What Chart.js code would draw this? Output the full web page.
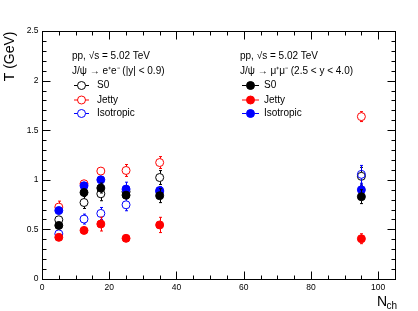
<!DOCTYPE html>
<html><head><meta charset="utf-8">
<script src="https://cdn.jsdelivr.net/npm/chart.js@4.4.0/dist/chart.umd.min.js"></script>
<style>html,body{margin:0;padding:0;background:#fff}#wrap{width:418px;height:311px}</style>
</head><body><div id="wrap"><canvas id="c" width="418" height="311"></canvas></div>
<script>
const nch = [5, 12.5, 17.5, 25, 35, 95];
const eeS0 = [0.597, 0.771, 0.859, 0.88, 1.023, 1.035];
const eeS0Err = [0.04, 0.06, 0.07, 0.05, 0.07, 0.09];
const eeJetty = [0.725, 0.96, 1.088, 1.094, 1.174, 1.637];
const eeJettyErr = [0.06, 0.03, 0.04, 0.06, 0.06, 0.05];
const eeIso = [0.455, 0.604, 0.661, 0.748, 0.88, 1.055];
const eeIsoErr = [0.03, 0.05, 0.06, 0.06, 0.05, 0.09];
const mmS0 = [0.54, 0.872, 0.917, 0.845, 0.84, 0.83];
const mmS0Err = [0.03, 0.04, 0.05, 0.04, 0.07, 0.07];
const mmJetty = [0.42, 0.49, 0.554, 0.41, 0.545, 0.406];
const mmJettyErr = [0.02, 0.03, 0.07, 0.015, 0.077, 0.05];
const mmIso = [0.69, 0.94, 1.0, 0.906, 0.892, 0.899];
const mmIsoErr = [0.03, 0.04, 0.04, 0.07, 0.04, 0.05];
const xTicks = [0, 20, 40, 60, 80, 100];
const yTicks = [0, 0.5, 1, 1.5, 2, 2.5];
const yTickLabels = ['0', '0.5', '1', '1.5', '2', '2.5'];
const seriesNames = ['S0', 'Jetty', 'Isotropic'];
const headerLeft = ['pp, √s = 5.02 TeV', 'J/ψ → e⁺e⁻ (|y| < 0.9)'];
const headerRight = ['pp, √s = 5.02 TeV', 'J/ψ → μ⁺μ⁻ (2.5 < y < 4.0)'];

const R = 4;
function ds(vals, errs, color, filled, order) {
  return {
    data: nch.map((x, i) => ({x: x, y: vals[i]})),
    errs: errs,
    borderColor: color,
    backgroundColor: filled ? color : 'rgba(0,0,0,0)',
    pointRadius: R, pointBorderWidth: 1, showLine: false,
    filledMarker: filled, order: order
  };
}
const FONT = '"Liberation Sans", Arial, sans-serif';

const rootPlugin = {
  id: 'rootStyle',
  beforeDatasetDraw(chart, args) {
    const d = chart.data.datasets[args.index];
    const ctx = chart.ctx, xs = chart.scales.x, ys = chart.scales.y;
    ctx.save();
    ctx.strokeStyle = d.borderColor; ctx.lineWidth = 1;
    d.data.forEach((p, i) => {
      const e = d.errs[i];
      const px = Math.round(xs.getPixelForValue(p.x)) + 0.5;
      const py = ys.getPixelForValue(p.y);
      const top = ys.getPixelForValue(p.y + e), bot = ys.getPixelForValue(p.y - e);
      ctx.beginPath();
      if (top < py - R) { ctx.moveTo(px, py - R); ctx.lineTo(px, top); ctx.moveTo(px - 1.5, top); ctx.lineTo(px + 1.5, top); }
      if (bot > py + R) { ctx.moveTo(px, py + R); ctx.lineTo(px, bot); ctx.moveTo(px - 1.5, bot); ctx.lineTo(px + 1.5, bot); }
      ctx.stroke();
    });
    ctx.restore();
  },
  afterDraw(chart) {
    const ctx = chart.ctx, xs = chart.scales.x, ys = chart.scales.y, a = chart.chartArea;
    const L = Math.round(a.left) + 0.5, Rt = Math.round(a.right) + 0.5, T = Math.round(a.top) + 0.5, B = Math.round(a.bottom) + 0.5;
    ctx.save();
    ctx.strokeStyle = '#000'; ctx.lineWidth = 1;
    ctx.strokeRect(L, T, Rt - L, B - T);
    ctx.beginPath();
    for (let v = 0; v <= 105; v += 5) {
      const x = Math.round(xs.getPixelForValue(v)) + 0.5;
      const len = (v % 20 === 0) ? 8 : 4;
      ctx.moveTo(x, B); ctx.lineTo(x, B - len);
      ctx.moveTo(x, T); ctx.lineTo(x, T + len);
    }
    for (let k = 0; k <= 25; k++) {
      const v = k / 10;
      const y = Math.round(ys.getPixelForValue(v)) + 0.5;
      const len = (k % 5 === 0) ? 8 : 4;
      ctx.moveTo(L, y); ctx.lineTo(L + len, y);
      ctx.moveTo(Rt, y); ctx.lineTo(Rt - len, y);
    }
    ctx.stroke();
    ctx.fillStyle = '#000';
    ctx.font = '8.5px ' + FONT;
    ctx.textAlign = 'center'; ctx.textBaseline = 'top';
    xTicks.forEach(v => ctx.fillText(String(v), xs.getPixelForValue(v), B + 4));
    ctx.textAlign = 'right'; ctx.textBaseline = 'middle';
    yTicks.forEach((v, i) => ctx.fillText(yTickLabels[i], L - 4, ys.getPixelForValue(v)));
    // axis titles
    ctx.save();
    ctx.translate(10, T);
    ctx.rotate(-Math.PI / 2);
    ctx.font = '14px ' + FONT; ctx.textAlign = 'right'; ctx.textBaseline = 'middle';
    ctx.fillText('T (GeV)', 0, 0);
    ctx.restore();
    ctx.textAlign = 'left'; ctx.textBaseline = 'alphabetic';
    ctx.font = '14px ' + FONT;
    ctx.fillText('N', 377, 306);
    ctx.font = '10px ' + FONT;
    ctx.fillText('ch', 386.5, 309);
    // legends
    const blocks = [
      {tx: 72, mx0: 74, mx1: 89, mc: 81.5, ex: 97, head: headerLeft, filled: false},
      {tx: 240, mx0: 242, mx1: 259, mc: 250.5, ex: 264, head: headerRight, filled: true}
    ];
    const colors = ['#000000', '#ff0000', '#0000ff'];
    ctx.font = '10px ' + FONT; ctx.textBaseline = 'middle'; ctx.textAlign = 'left';
    blocks.forEach(b => {
      ctx.fillStyle = '#000';
      ctx.fillText(b.head[0], b.tx, 56);
      ctx.fillText(b.head[1], b.tx, 71);
      [85, 99.5, 113].forEach((y, i) => {
        ctx.strokeStyle = colors[i]; ctx.fillStyle = colors[i];
        ctx.beginPath(); ctx.moveTo(b.mx0, y + 0.5); ctx.lineTo(b.mc - R, y + 0.5);
        ctx.moveTo(b.mc + R, y + 0.5); ctx.lineTo(b.mx1, y + 0.5); ctx.stroke();
        ctx.beginPath(); ctx.arc(b.mc, y + 0.5, R, 0, Math.PI * 2);
        if (b.filled) ctx.fill(); ctx.stroke();
        ctx.fillStyle = '#000';
        ctx.fillText(seriesNames[i], b.ex, y + 0.5);
      });
    });
    ctx.restore();
  }
};

new Chart(document.getElementById('c'), {
  type: 'scatter',
  data: {datasets: [
    ds(mmS0, mmS0Err, '#000000', true, 1),
    ds(mmJetty, mmJettyErr, '#ff0000', true, 2),
    ds(mmIso, mmIsoErr, '#0000ff', true, 3),
    ds(eeIso, eeIsoErr, '#0000ff', false, 4),
    ds(eeJetty, eeJettyErr, '#ff0000', false, 5),
    ds(eeS0, eeS0Err, '#000000', false, 6)
  ]},
  options: {
    responsive: false, animation: false, devicePixelRatio: 1,
    layout: {padding: {left: 42, right: 23, top: 31, bottom: 32}},
    plugins: {legend: {display: false}, tooltip: {enabled: false}},
    scales: {
      x: {type: 'linear', min: 0, max: 105, display: false},
      y: {type: 'linear', min: 0, max: 2.5, display: false}
    }
  },
  plugins: [rootPlugin]
});
</script></body></html>
